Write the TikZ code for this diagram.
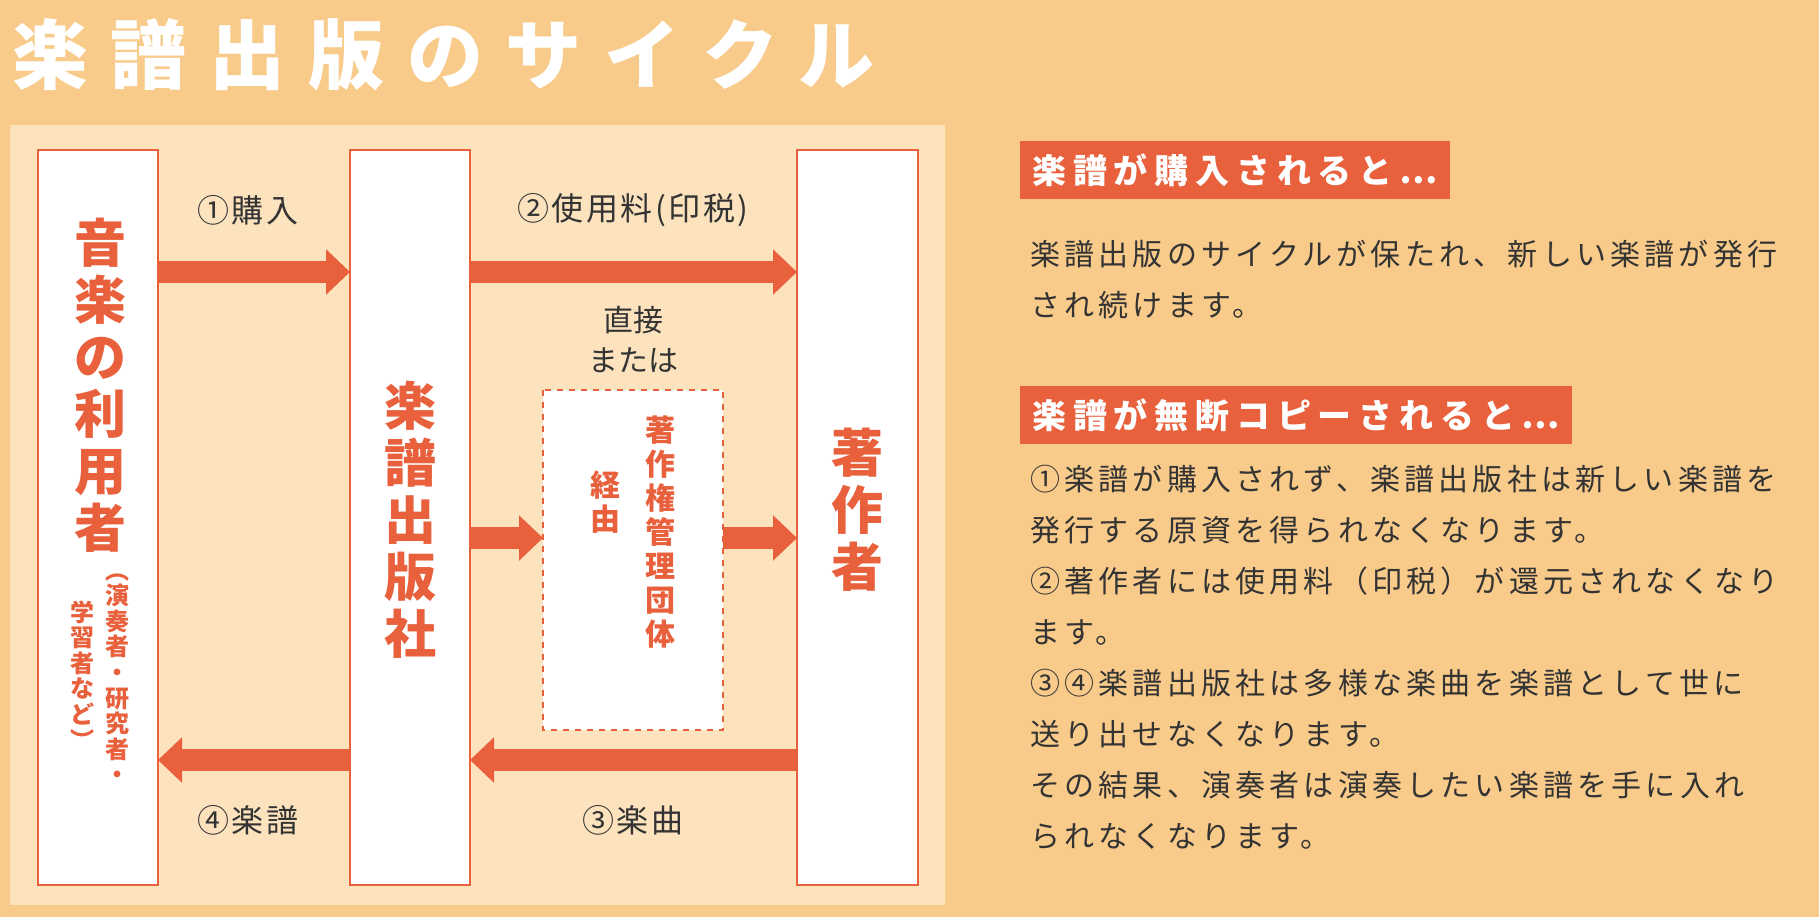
\documentclass[tikz,border=0pt]{standalone}
\usepackage{fontspec}
\setmainfont{Noto Sans CJK JP}
\usetikzlibrary{positioning, arrows.meta}
\definecolor{bgorange}{HTML}{F8CB8A}
\definecolor{paneltone}{HTML}{FCE3BE}
\definecolor{redorange}{HTML}{E8603C}
\definecolor{bodygray}{HTML}{333333}
\tikzset{
  x=0.5pt, y=-0.5pt,
  actor/.style={draw=redorange, line width=1.2pt, fill=white},
  bigvert/.style={text=redorange, font=\fontsize{26}{28.5}\selectfont\bfseries, align=center, inner sep=0pt},
  smallvert/.style={text=redorange, font=\fontsize{12}{12.8}\selectfont\bfseries, align=center, inner sep=0pt, anchor=north},
  flow/.style={-{Triangle[length=12pt, width=22pt]}, line width=11pt, draw=redorange},
  flowlabel/.style={font=\fontsize{16}{18}\selectfont\addfontfeature{LetterSpace=8}, text=bodygray},
  headbox/.style={fill=redorange, text=white, font=\fontsize{17}{19}\selectfont\bfseries\addfontfeature{LetterSpace=20}, anchor=west, inner xsep=6pt, inner ysep=6pt},
  bodytext/.style={font=\fontsize{15}{25.5}\selectfont\addfontfeature{LetterSpace=14}, text=bodygray, anchor=north west, align=left, inner sep=0pt}
}
\begin{document}
\begin{tikzpicture}
\fill[bgorange] (0,0) rectangle (1819,917);
\fill[paneltone] (10,125) rectangle (945,905);
\node[anchor=west, text=white, font=\fontsize{38}{40}\selectfont\bfseries\addfontfeature{LetterSpace=30}] (title) at (5,55) {楽譜出版のサイクル};

% actors
\draw[actor] (38,150) rectangle (158,885);
\draw[actor] (350,150) rectangle (470,885);
\draw[actor] (797,150) rectangle (918,885);
\node[bigvert, anchor=north] (user) at (100,218) {音\\楽\\の\\利\\用\\者};
\node[smallvert] (userA) at (117,573) {︵\\演\\奏\\者\\・\\研\\究\\者\\・};
\node[smallvert] (userB) at (82,600) {学\\習\\者\\な\\ど\\︶};
\node[bigvert] (pub) at (410,520) {楽\\譜\\出\\版\\社};
\node[bigvert] (author) at (857,510) {著\\作\\者};

% via
\draw[redorange, dashed, line width=0.8pt, fill=white] (543,390) rectangle (723,730);
\node[smallvert, font=\fontsize{15}{17}\selectfont\bfseries] (org) at (660,415) {著\\作\\権\\管\\理\\団\\体};
\node[smallvert, font=\fontsize{15}{17}\selectfont\bfseries] (via) at (605,470) {経\\由};
\node[flowlabel, align=center, font=\fontsize{15}{20}\selectfont] (direct) at (633,340) {直接\\または};

% flows
\coordinate (a1) at (158,272); \coordinate (b1) at (350,272);
\coordinate (a2) at (470,272); \coordinate (b2) at (797,272);
\coordinate (a3) at (470,538); \coordinate (b3) at (543,538);
\coordinate (a4) at (723,538); \coordinate (b4) at (797,538);
\coordinate (a5) at (350,760); \coordinate (b5) at (158,760);
\coordinate (a6) at (797,760); \coordinate (b6) at (470,760);
\foreach \s/\t in {a1/b1, a2/b2, a3/b3, a4/b4, a5/b5, a6/b6}
  \draw[flow] (\s) -- (\t);
\node[flowlabel] (buy) at (248,210) {①購入};
\node[flowlabel] (fee) at (633,210) {②使用料(印税)};
\node[flowlabel] (score) at (248,820) {④楽譜};
\node[flowlabel] (piece) at (633,820) {③楽曲};

% explanation
\node[headbox] (headA) at (1020,170) {楽譜が購入されると⋯};
\node[bodytext] (bodyA) at (1030,240) {楽譜出版のサイクルが保たれ、新しい楽譜が発行\\され続けます。};
\node[headbox] (headB) at (1020,415) {楽譜が無断コピーされると⋯};
\node[bodytext] (bodyB) at (1030,465) {①楽譜が購入されず、楽譜出版社は新しい楽譜を\\発行する原資を得られなくなります。\\②著作者には使用料（印税）が還元されなくなり\\ます。\\③④楽譜出版社は多様な楽曲を楽譜として世に\\送り出せなくなります。\\その結果、演奏者は演奏したい楽譜を手に入れ\\られなくなります。};
\end{tikzpicture}
\end{document}
